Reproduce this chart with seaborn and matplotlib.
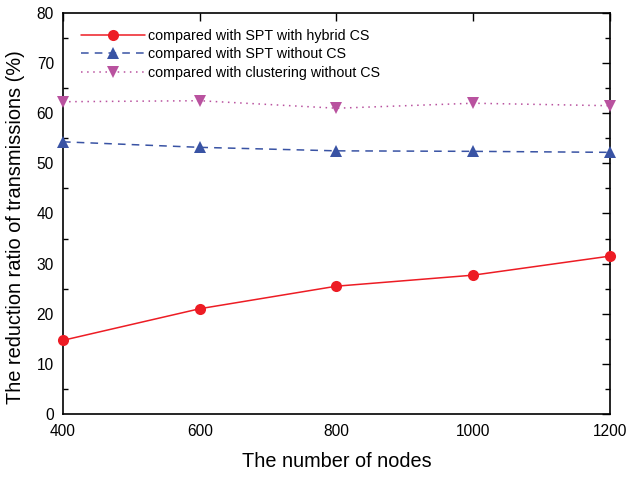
import numpy as np
import matplotlib
matplotlib.use("Agg")
import matplotlib.pyplot as plt
import pandas as pd
import seaborn as sns

# datos
nodos = [400, 600, 800, 1000, 1200]
spt_hibrido = [14.7, 21.0, 25.5, 27.7, 31.5]
spt_sin_cs = [54.3, 53.2, 52.5, 52.4, 52.2]
cluster_sin_cs = [62.3, 62.5, 61.0, 62.0, 61.5]

etiquetas = ["compared with SPT with hybrid CS",
             "compared with SPT without CS",
             "compared with clustering without CS"]
colores = ["#ed1c24", "#3953a4", "#b9529f"]
estilos = ["-", (0, (5, 4)), (0, (1, 3))]
marcadores = ["o", "^", "v"]

sns.set_theme(style="white")
plt.rcParams['font.family'] = ['Liberation Sans', 'DejaVu Sans']
plt.rcParams['text.color'] = 'black'
plt.rcParams['axes.labelcolor'] = 'black'

df = pd.DataFrame({"nodos": nodos * 3,
                   "valor": spt_hibrido + spt_sin_cs + cluster_sin_cs,
                   "serie": [e for e in etiquetas for _ in nodos]})

fig = plt.figure(figsize=(6.26, 4.78), dpi=100)
ax = fig.add_axes([0.1006, 0.1339, 0.8738, 0.8389])

for etiqueta, color, ls, mk in zip(etiquetas, colores, estilos, marcadores):
    sub = df[df["serie"] == etiqueta]
    sns.lineplot(data=sub, x="nodos", y="valor", ax=ax, color=color,
                 linestyle=ls, marker=mk, markersize=8, markeredgewidth=0,
                 linewidth=1.1, label=etiqueta, clip_on=False, zorder=3)

ax.set_xlim(400, 1200)
ax.set_ylim(0, 80)
ax.set_xticks([400, 600, 800, 1000, 1200])
ax.set_yticks(np.arange(0, 81, 10))
ax.set_yticks(np.arange(5, 80, 10), minor=True)
ax.tick_params(which="both", direction="in", top=True, right=True,
               labelsize=11.2, colors="black")
ax.tick_params(axis="x", pad=7)
ax.tick_params(axis="y", pad=6.5)
ax.tick_params(which="major", length=6, width=1)
ax.tick_params(which="minor", length=3.5, width=1, left=True, right=True)
for s in ax.spines.values():
    s.set_color("black")
    s.set_linewidth(1.2)

ax.set_xlabel("The number of nodes", fontsize=14.3, va="top")
ax.set_ylabel("The reduction ratio of transmissions (%)", fontsize=14.4)
ax.xaxis.set_label_coords(0.5, -0.095)
ax.yaxis.set_label_coords(-0.07, 0.466)

ax.legend(loc="upper left", frameon=False, fontsize=10.3, handlelength=4.5,
          handletextpad=0.2, labelspacing=0.3, borderaxespad=0.3,
          bbox_to_anchor=(0.0146, 0.985))

fig.savefig("out.png", dpi=100)
